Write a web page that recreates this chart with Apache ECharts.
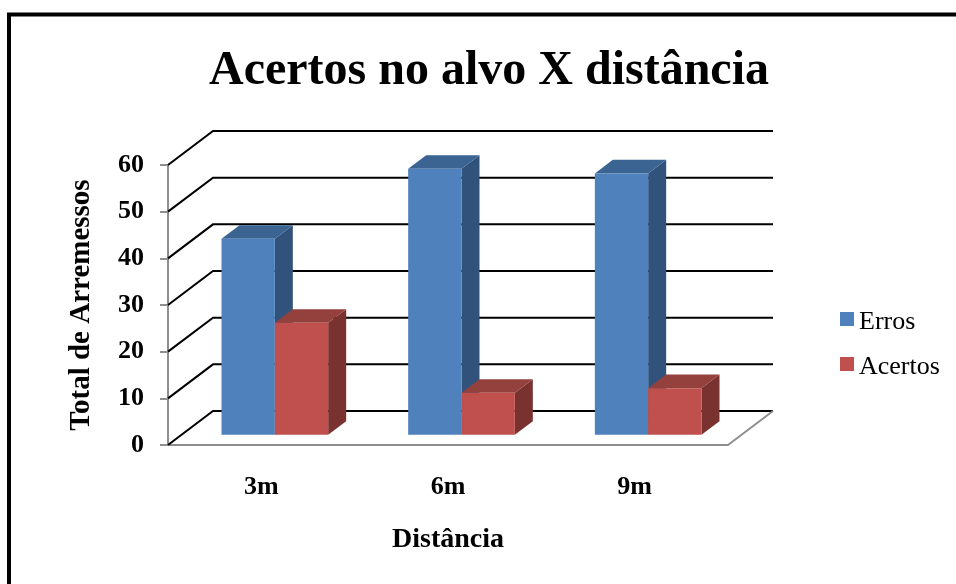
<!DOCTYPE html>
<html>
<head>
<meta charset="utf-8">
<style>html,body{margin:0;padding:0;background:#fff}#chart{width:956px;height:584px}</style>
<script src="https://cdn.jsdelivr.net/npm/echarts@6/dist/echarts.min.js"></script>
</head>
<body>
<div id="chart"></div>
<script>
const categories = ['3m', '6m', '9m'];
const erros = [42, 57, 56];
const acertos = [24, 9, 10];
const yTicks = [0, 10, 20, 30, 40, 50, 60];

const SERIF = '"Liberation Serif", "Times New Roman", serif';
// Oblique projection of the chart's depth axis, in pixels.
const DEPTH_X = 45, DEPTH_Y = -34;
const BAR_FRONT = 0.3, BAR_BACK = 0.7;
const BAR_SHARE = 1 / 3.5;

const palette = {
  Erros: { face: '#4f81bd', top: '#3c6493', side: '#31527b' },
  Acertos: { face: '#c0504d', top: '#94403d', side: '#79322f' }
};

function poly(points, fill) {
  return { type: 'polygon', shape: { points }, style: { fill }, silent: true };
}

// A box whose front face sits partway back along the depth axis.
function barRenderer(colors, slot) {
  return function (params, api) {
    const idx = api.value(0);
    const base = api.coord([idx, 0]);
    const tip = api.coord([idx, api.value(1)]);
    const w = api.size([1, 0])[0] * BAR_SHARE;
    const x0 = base[0] + DEPTH_X * BAR_FRONT + (slot - 1) * w;
    const x1 = x0 + w;
    const yb = base[1] + DEPTH_Y * BAR_FRONT;
    const yt = tip[1] + DEPTH_Y * BAR_FRONT;
    const dx = DEPTH_X * (BAR_BACK - BAR_FRONT);
    const dy = DEPTH_Y * (BAR_BACK - BAR_FRONT);
    return {
      type: 'group',
      children: [
        poly([[x1, yt], [x1 + dx, yt + dy], [x1 + dx, yb + dy], [x1, yb]], colors.side),
        poly([[x0, yt], [x0 + dx, yt + dy], [x1 + dx, yt + dy], [x1, yt]], colors.top),
        poly([[x0, yt], [x1, yt], [x1, yb], [x0, yb]], colors.face)
      ]
    };
  };
}

// Back-wall gridline and the diagonal running to the value axis.
function wallRenderer(params, api) {
  const v = api.value(0);
  const left = api.coord([0, v]);
  const right = api.coord([categories.length - 1, v]);
  const band = api.size([1, 0])[0];
  const xa = left[0] - band / 2;
  const xb = right[0] + band / 2;
  const y = left[1];
  const black = { stroke: '#000', lineWidth: 2, fill: null };
  const children = [{
    type: 'polyline',
    shape: { points: [[xa, y], [xa + DEPTH_X, y + DEPTH_Y], [xb + DEPTH_X, y + DEPTH_Y]] },
    style: black, silent: true
  }];
  if (v === 0) {
    children.push({
      type: 'line',
      shape: { x1: xb, y1: y, x2: xb + DEPTH_X, y2: y + DEPTH_Y },
      style: { stroke: '#8e8e8e', lineWidth: 2 }, silent: true
    });
  }
  return { type: 'group', children };
}

const chart = echarts.init(document.getElementById('chart'), null, { renderer: 'canvas' });
chart.setOption({
  animation: false,
  backgroundColor: '#fff',
  title: {
    text: 'Acertos no alvo X distância',
    left: 484, top: 43, textAlign: 'center',
    textStyle: { fontFamily: SERIF, fontWeight: 'bold', fontSize: 48, color: '#000' }
  },
  legend: {
    orient: 'vertical', left: 840, top: 309,
    data: ['Erros', 'Acertos'],
    icon: 'rect', itemWidth: 14, itemHeight: 14, itemGap: 19,
    textStyle: {
      fontFamily: SERIF, fontSize: 26, color: '#000',
      rich: { entry: { fontFamily: SERIF, fontSize: 26, color: '#000', padding: [6, 0, 0, 0] } }
    },
    formatter: '{entry|{name}}', selectedMode: false, padding: 0
  },
  grid: { left: 168, width: 560, top: 165, height: 280 },
  xAxis: {
    type: 'category', data: categories,
    axisLine: { lineStyle: { color: '#8e8e8e', width: 2 } },
    axisTick: { show: false },
    axisLabel: { margin: 29, fontFamily: SERIF, fontWeight: 'bold', fontSize: 26, color: '#000' },
    name: 'Distância', nameLocation: 'middle', nameGap: 81,
    nameTextStyle: { fontFamily: SERIF, fontWeight: 'bold', fontSize: 28, color: '#000' }
  },
  yAxis: {
    type: 'value', min: 0, max: 60, interval: 10,
    axisLine: { show: true, lineStyle: { color: '#8e8e8e', width: 2 } },
    axisTick: { show: true, length: 8, lineStyle: { color: '#8e8e8e', width: 2 } },
    splitLine: { show: false },
    axisLabel: { margin: 24, padding: [5, 0, 0, 0], fontFamily: SERIF, fontWeight: 'bold', fontSize: 26, color: '#000' },
    name: 'Total de Arremessos', nameLocation: 'middle', nameGap: 72,
    nameTextStyle: { fontFamily: SERIF, fontWeight: 'bold', fontSize: 29, color: '#000' }
  },
  graphic: [{
    type: 'polyline', silent: true,
    shape: { points: [[9, 584], [9, 14.5], [956, 14.5]] },
    style: { stroke: '#000', lineWidth: 4, fill: null }
  }],
  series: [
    {
      type: 'custom', name: 'wall', z: 1,
      coordinateSystem: 'cartesian2d',
      renderItem: wallRenderer,
      encode: { y: 0 },
      data: yTicks.map(v => [v])
    },
    {
      type: 'custom', name: 'Erros', z: 2,
      itemStyle: { color: palette.Erros.face },
      renderItem: barRenderer(palette.Erros, 0),
      encode: { x: 0, y: 1 },
      data: erros.map((v, i) => [i, v])
    },
    {
      type: 'custom', name: 'Acertos', z: 3,
      itemStyle: { color: palette.Acertos.face },
      renderItem: barRenderer(palette.Acertos, 1),
      encode: { x: 0, y: 1 },
      data: acertos.map((v, i) => [i, v])
    }
  ]
});
</script>
</body>
</html>
